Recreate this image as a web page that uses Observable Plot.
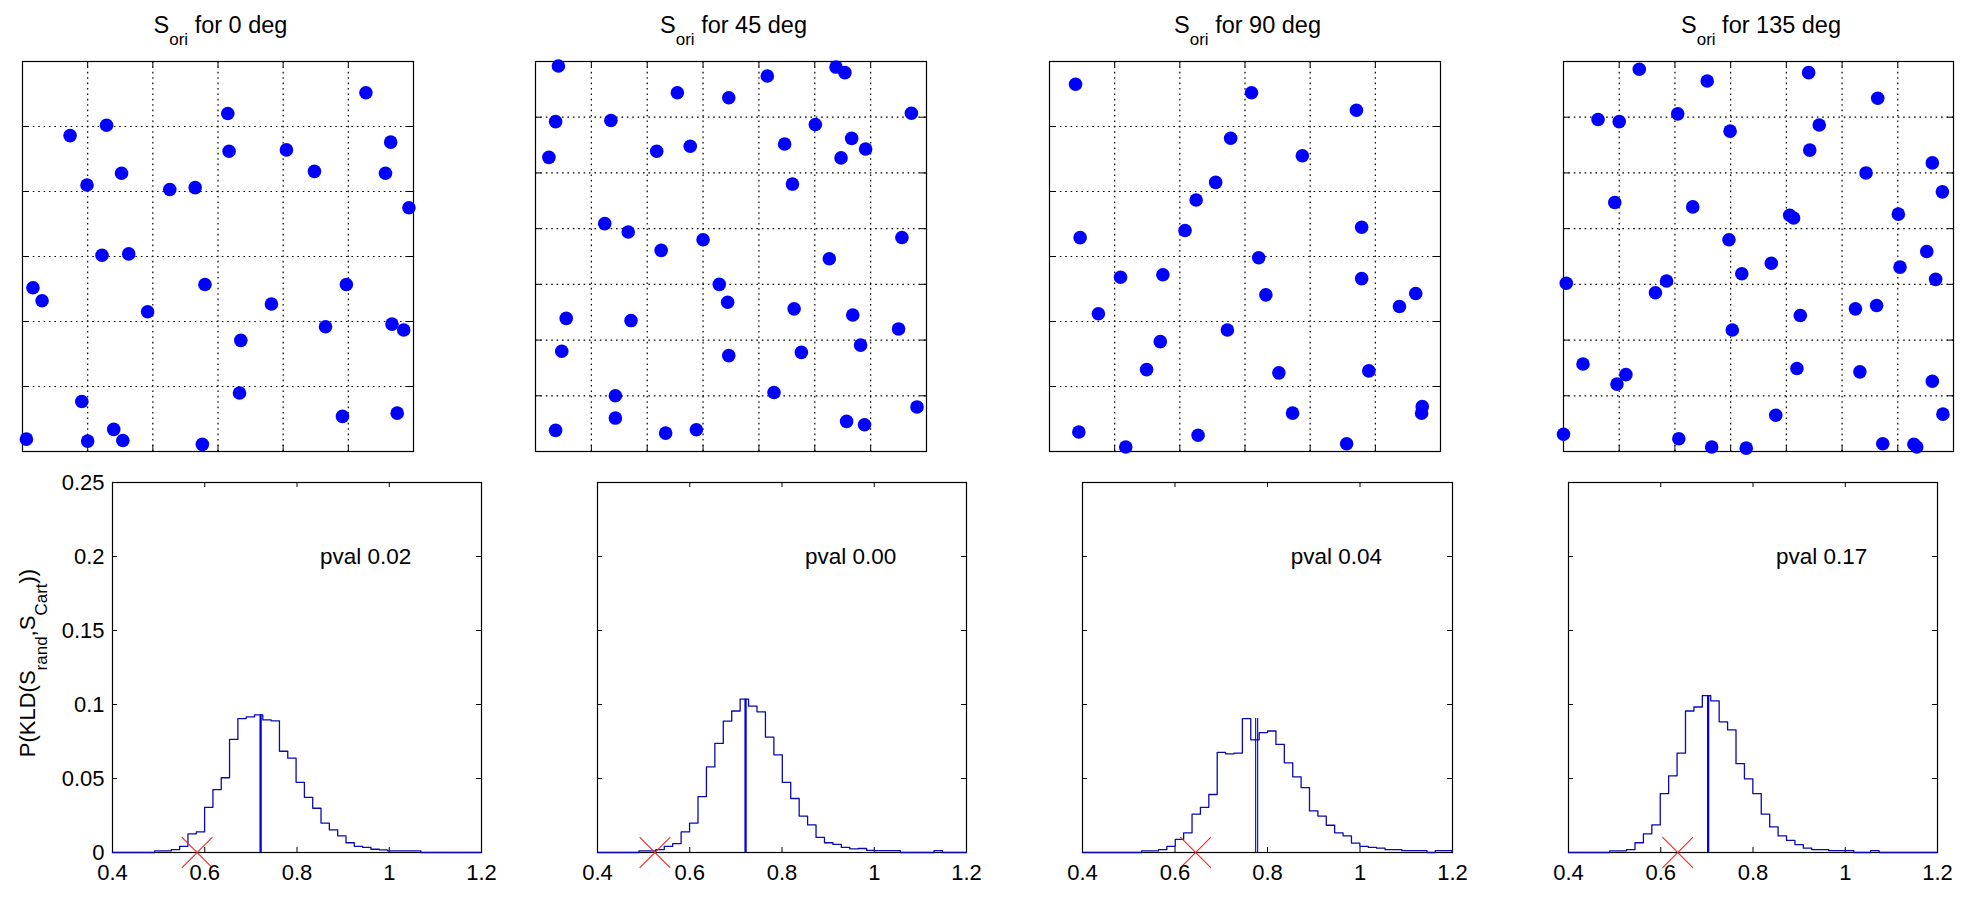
<!DOCTYPE html>
<html><head><meta charset="utf-8">
<script src="https://cdn.jsdelivr.net/npm/d3@7"></script>
<script src="https://cdn.jsdelivr.net/npm/@observablehq/plot@0.6"></script>
<style>
body{margin:0;background:#fff;}
#root{position:relative;width:1983px;height:912px;overflow:hidden;font-family:"Liberation Sans",Arial,Helvetica,sans-serif;color:#000;background:#fff;}
.panel{position:absolute;}
.title{position:absolute;width:400px;text-align:center;font-size:23.5px;line-height:23px;white-space:nowrap;}
.title sub{font-size:17px;vertical-align:baseline;position:relative;top:12px;}
</style></head><body><div id="root"></div>
<script>
// ---------- data ----------
const degrees = [0, 45, 90, 135];
const pvalLabels = ["0.02", "0.00", "0.04", "0.17"];
const gridDivisions = [6, 7, 6, 7];
const gridTicks6 = [1, 2, 3, 4, 5];
const gridTicks7 = [1, 2, 3, 4, 5, 6];

const points0 = [[5.27,5.52],[3.15,5.20],[1.29,5.02],[0.73,4.86],[5.65,4.76],[3.17,4.62],[4.05,4.64],[4.48,4.31],[5.57,4.28],[1.52,4.28],[0.99,4.10],[2.26,4.03],[2.65,4.06],[5.93,3.75],[1.22,3.02],[1.63,3.04],[0.16,2.52],[0.30,2.32],[2.80,2.57],[4.97,2.57],[1.92,2.15],[3.82,2.27],[4.65,1.92],[5.67,1.96],[5.85,1.87],[3.35,1.71],[3.33,0.90],[0.91,0.77],[4.91,0.54],[5.75,0.59],[1.40,0.34],[0.06,0.19],[1.00,0.16],[1.54,0.17],[2.76,0.11]];
const points1 = [[0.41,6.92],[5.38,6.90],[5.54,6.80],[4.15,6.74],[2.54,6.44],[3.46,6.35],[6.73,6.07],[0.36,5.92],[1.35,5.94],[5.01,5.87],[5.66,5.62],[4.46,5.52],[2.77,5.48],[2.17,5.39],[5.91,5.43],[5.47,5.27],[0.24,5.28],[4.60,4.80],[1.24,4.09],[1.66,3.94],[3.00,3.80],[2.25,3.61],[6.56,3.84],[5.26,3.46],[3.29,3.00],[3.44,2.68],[4.63,2.56],[5.68,2.45],[0.55,2.39],[1.71,2.35],[6.50,2.20],[0.47,1.80],[5.82,1.91],[3.46,1.72],[4.76,1.78],[4.27,1.06],[1.43,1.00],[6.83,0.80],[1.43,0.60],[0.36,0.38],[5.57,0.54],[5.89,0.48],[2.33,0.33],[2.88,0.39]];
const points2 = [[0.40,5.65],[3.10,5.52],[4.71,5.25],[2.78,4.82],[3.88,4.55],[2.55,4.14],[2.25,3.87],[2.08,3.40],[0.47,3.29],[4.79,3.45],[3.21,2.98],[1.09,2.68],[1.74,2.72],[4.79,2.66],[3.32,2.41],[5.62,2.43],[5.37,2.23],[0.75,2.12],[2.73,1.87],[1.70,1.69],[1.49,1.26],[3.52,1.21],[4.90,1.24],[3.73,0.59],[5.72,0.69],[5.71,0.59],[0.45,0.30],[2.28,0.25],[1.17,0.07],[4.56,0.12]];
const points3 = [[1.36,6.86],[2.58,6.65],[4.40,6.80],[5.64,6.34],[0.62,5.96],[1.00,5.92],[2.05,6.06],[2.99,5.75],[4.59,5.86],[4.42,5.41],[6.62,5.18],[5.43,5.00],[6.80,4.66],[0.92,4.47],[2.32,4.39],[4.06,4.24],[4.13,4.19],[6.01,4.26],[2.97,3.80],[6.52,3.59],[3.73,3.38],[3.20,3.19],[6.04,3.31],[6.68,3.09],[0.05,3.02],[1.85,3.06],[1.65,2.85],[4.25,2.44],[5.24,2.56],[5.62,2.62],[3.03,2.18],[0.35,1.57],[1.12,1.38],[0.96,1.21],[4.19,1.49],[5.32,1.43],[6.62,1.26],[3.81,0.65],[6.81,0.67],[0.00,0.31],[2.07,0.23],[2.66,0.08],[3.28,0.06],[5.73,0.14],[6.29,0.13],[6.34,0.08]];

const histStart = [0.4915, 0.4899, 0.528, 0.4894];
const histBinWidth = [0.01803, 0.01828, 0.01814, 0.01825];
const hist0 = [0.0011,0.0011,0.002,0.0042,0.0126,0.0139,0.0305,0.0425,0.0505,0.0764,0.0905,0.0916,0.0930,0.0896,0.089,0.0684,0.0637,0.0474,0.0372,0.0299,0.0199,0.0153,0.0113,0.0066,0.0042,0.0035,0.0022,0.0018,0.0011,0.0011,0.0011,0.0011];
const hist1 = [0.0011,0.0011,0.002,0.0042,0.006,0.0139,0.0199,0.0378,0.0578,0.0737,0.0888,0.0956,0.1036,0.0989,0.0950,0.0779,0.066,0.0474,0.0365,0.0246,0.0186,0.0102,0.0066,0.0055,0.0035,0.0024,0.0027,0.0015,0.0013,0.0013,0.0013,0,0,0,0,0.0013];
const hist2 = [0.0011,0.0011,0.002,0.0042,0.0089,0.0133,0.0259,0.0305,0.0392,0.0677,0.0666,0.0671,0.0905,0.0761,0.081,0.0821,0.073,0.0606,0.0511,0.0438,0.0281,0.0246,0.0184,0.0133,0.0113,0.0064,0.0042,0.0035,0.0029,0.002,0.002,0.0013,0.0013,0.0013,0,0.0013,0.0013];
const hist3 = [0.0011,0.0011,0.002,0.0066,0.0126,0.0186,0.0398,0.0518,0.0671,0.0956,0.0983,0.106,0.1025,0.0883,0.0828,0.06,0.0498,0.0398,0.0259,0.0173,0.0113,0.0082,0.0053,0.0029,0.002,0.002,0.0013,0.0013,0.0013,0,0,0.0013];
const meanKLD = [[0.7211], [0.721], [0.7744, 0.7787], [0.7027]];
const observedKLD = [0.5835, 0.5246, 0.6447, 0.6369];

const xTicks = [0.4, 0.6, 0.8, 1, 1.2];
const xTickLabels = ["0.4", "0.6", "0.8", "1", "1.2"];
const yTicks = [0, 0.05, 0.1, 0.15, 0.2, 0.25];
const yTickLabels = ["0", "0.05", "0.1", "0.15", "0.2", "0.25"];

// ---------- layout ----------
const topLeft = [22, 535, 1049, 1563], topW = [391, 391, 391, 390], topY = 61, topH = 390;
const botLeft = [112, 597, 1082, 1568], botW = [369, 369, 370, 369], botY = 482, botH = 370;
const FONT = "'Liberation Sans', Arial, Helvetica, sans-serif";
const root = document.getElementById("root");
const pointsAll = [points0, points1, points2, points3];
const histAll = [hist0, hist1, hist2, hist3];
const GRID_DASH = "1.6,3.8";

function place(node, left, top) {
  node.classList.add("panel");
  node.style.left = left + "px";
  node.style.top = top + "px";
  root.appendChild(node);
}

function topPlot(i) {
  const n = gridDivisions[i];
  const ticks = n === 6 ? gridTicks6 : gridTicks7;
  const fw = topW[i], fh = topH, m = 10;
  return Plot.plot({
    width: fw + 2 * m, height: fh + 2 * m,
    marginLeft: m, marginRight: m, marginTop: m, marginBottom: m,
    x: {domain: [0, n], axis: null},
    y: {domain: [0, n], axis: null},
    style: {fontFamily: FONT, fontSize: "22px", background: "transparent", overflow: "visible", color: "black"},
    marks: [
      Plot.ruleX(ticks, {x: d => d, stroke: "black", strokeWidth: 1.2, strokeDasharray: GRID_DASH}),
      Plot.ruleY(ticks, {y: d => d, stroke: "black", strokeWidth: 1.2, strokeDasharray: GRID_DASH}),
      Plot.tickX(ticks, {x: d => d, insetTop: fh - 6, stroke: "black"}),
      Plot.tickX(ticks, {x: d => d, insetBottom: fh - 6, stroke: "black"}),
      Plot.tickY(ticks, {y: d => d, insetRight: fw - 6, stroke: "black"}),
      Plot.tickY(ticks, {y: d => d, insetLeft: fw - 6, stroke: "black"}),
      Plot.frame({stroke: "black", strokeWidth: 1.2}),
      Plot.dot(pointsAll[i], {x: d => d[0], y: d => d[1], r: 6.8, fill: "#0000ff", stroke: null})
    ]
  });
}

function botPlot(i) {
  const fw = botW[i], fh = botH;
  const ml = i === 0 ? 110 : 60, mr = 30, mt = 10, mb = 40;
  const h = histAll[i];
  const x0 = histStart[i], w = histBinWidth[i];
  const stairs = [[0.4, 0], ...h.map((v, k) => [x0 + k * w, v]), [x0 + h.length * w, 0], [1.2, 0]];
  const peak = d3.max(h);
  const marks = [
    Plot.tickX(xTicks, {x: d => d, insetTop: fh - 5, stroke: "black"}),
    Plot.tickX(xTicks, {x: d => d, insetBottom: fh - 5, stroke: "black"}),
    Plot.tickY(yTicks, {y: d => d, insetRight: fw - 5, stroke: "black"}),
    Plot.tickY(yTicks, {y: d => d, insetLeft: fw - 5, stroke: "black"}),
    Plot.frame({stroke: "black", strokeWidth: 1.2}),
    Plot.line(stairs, {x: d => d[0], y: d => d[1], curve: "step-after", stroke: "#0a0ab0", strokeWidth: 1.3}),
    Plot.ruleX(meanKLD[i], {x: d => d, y1: () => 0, y2: () => peak, stroke: "#0000e0", strokeWidth: i === 2 ? 1.1 : 2.3}),
    Plot.dot([observedKLD[i]], {x: d => d, y: () => 0, symbol: "times", r: 14, stroke: "#ff2020", strokeWidth: 1.1, fill: "none"}),
    Plot.text([pvalLabels[i]], {x: () => 0.85, y: () => 0.2, text: d => "pval " + d, textAnchor: "start", lineAnchor: "middle", fontSize: 22.5, fill: "black"}),
    Plot.axisX({ticks: xTicks, tickFormat: d => xTickLabels[xTicks.indexOf(d)], tickSize: 0, tickPadding: 12, label: null, fontSize: 22})
  ];
  if (i === 0) {
    marks.push(Plot.axisY({ticks: yTicks, tickFormat: d => yTickLabels[yTicks.indexOf(d)], tickSize: 0, tickPadding: 8, label: null, fontSize: 22}));
  }
  const svg = Plot.plot({
    width: fw + ml + mr, height: fh + mt + mb,
    marginLeft: ml, marginRight: mr, marginTop: mt, marginBottom: mb,
    x: {domain: [0.4, 1.2]},
    y: i === 0 ? {domain: [0, 0.25]} : {domain: [0, 0.25], axis: null},
    style: {fontFamily: FONT, fontSize: "22px", background: "transparent", overflow: "visible", color: "black"},
    marks
  });
  if (i === 0) {
    // rotated y-axis label with subscripts, as real SVG text
    const ns = "http://www.w3.org/2000/svg";
    const t = document.createElementNS(ns, "text");
    const bx = 35 - (botLeft[0] - ml), by = 663 - (botY - mt);
    t.setAttribute("transform", `translate(${bx},${by}) rotate(-90)`);
    t.setAttribute("text-anchor", "middle");
    t.setAttribute("font-size", "22");
    t.setAttribute("fill", "black");
    const parts = [["P(KLD(S", 22, 0], ["rand", 17, 12], [",S", 22, -12], ["Cart", 17, 12], ["))", 22, -12]];
    for (const [s, fs, dy] of parts) {
      const sp = document.createElementNS(ns, "tspan");
      sp.setAttribute("font-size", fs);
      if (dy) sp.setAttribute("dy", dy);
      sp.textContent = s;
      t.appendChild(sp);
    }
    svg.appendChild(t);
  }
  place(svg, botLeft[i] - ml, botY - mt);
}

for (let i = 0; i < 4; i++) {
  place(topPlot(i), topLeft[i] - 10, topY - 10);
  botPlot(i);
  const t = document.createElement("div");
  t.className = "title";
  t.innerHTML = "S<sub>ori</sub> for " + degrees[i] + " deg";
  t.style.left = (topLeft[i] + topW[i] / 2 + 3 - 200) + "px";
  t.style.top = "14px";
  root.appendChild(t);
}
</script></body></html>
